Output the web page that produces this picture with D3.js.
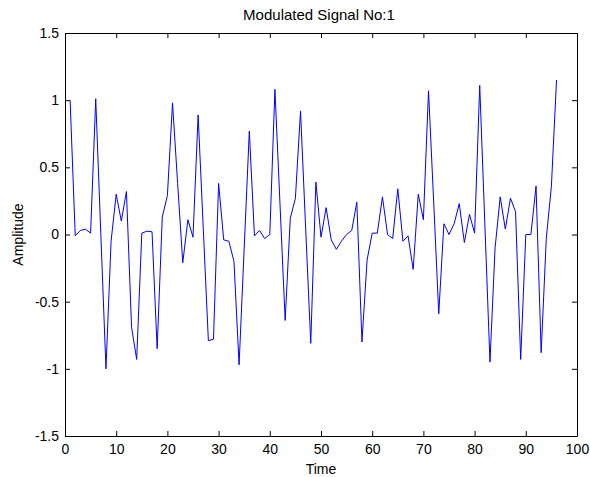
<!DOCTYPE html>
<html>
<head>
<meta charset="utf-8">
<script src="https://cdn.jsdelivr.net/npm/d3@7"></script>
<style>
  body { margin: 0; background: #fff; }
  svg text { font-family: "Liberation Sans", Arial, sans-serif; fill: #000; }
</style>
</head>
<body>
<svg id="chart" width="590" height="477"></svg>
<script>
// sample index 1..96
var amplitude = [
  1.00, -0.01, 0.03, 0.04, 0.01, 1.01, 0.00, -1.00, -0.05, 0.30,
  0.10, 0.32, -0.69, -0.93, 0.01, 0.025, 0.02, -0.85, 0.13, 0.29,
  0.98, 0.38, -0.21, 0.11, -0.02, 0.89, 0.05, -0.79, -0.78, 0.38,
  -0.04, -0.05, -0.20, -0.97, -0.10, 0.77, -0.01, 0.03, -0.03, 0.00,
  1.08, 0.22, -0.64, 0.12, 0.27, 0.92, 0.05, -0.81, 0.39, -0.02,
  0.20, -0.04, -0.11, -0.05, 0.00, 0.03, 0.24, -0.80, -0.19, 0.01,
  0.01, 0.28, 0.00, -0.03, 0.34, -0.05, -0.01, -0.26, 0.30, 0.11,
  1.07, 0.25, -0.59, 0.08, 0.00, 0.08, 0.23, -0.06, 0.15, 0.01,
  1.11, 0.08, -0.95, -0.10, 0.28, 0.04, 0.27, 0.17, -0.93, 0.00,
  0.00, 0.36, -0.88, -0.03, 0.36, 1.15
];
var xTicks = [0, 10, 20, 30, 40, 50, 60, 70, 80, 90, 100];
var yTicks = [-1.5, -1, -0.5, 0, 0.5, 1, 1.5];

var svg = d3.select('#chart');
var m = { left: 65, right: 577, top: 33, bottom: 436 };

var x = d3.scaleLinear().domain([0, 100]).range([m.left, m.right]);
var y = d3.scaleLinear().domain([-1.5, 1.5]).range([m.bottom, m.top]);

var data = amplitude.map(function(v, i) { return [i + 1, v]; });

svg.append('path')
  .datum(data)
  .attr('fill', 'none')
  .attr('stroke', '#0000ff')
  .attr('stroke-width', 1)
  .attr('d', d3.line().x(function(d) { return x(d[0]); }).y(function(d) { return y(d[1]); }));

function fmt(v) { return String(v); }

// matlab style box with inward ticks on all sides
var gb = svg.append('g').attr('transform', 'translate(0,' + m.bottom + ')')
  .call(d3.axisBottom(x).tickValues(xTicks).tickFormat(fmt).tickSizeInner(-5).tickSizeOuter(0).tickPadding(8));
var gt = svg.append('g').attr('transform', 'translate(0,' + m.top + ')')
  .call(d3.axisTop(x).tickValues(xTicks).tickFormat('').tickSizeInner(-5).tickSizeOuter(0));
var gl = svg.append('g').attr('transform', 'translate(' + m.left + ',0)')
  .call(d3.axisLeft(y).tickValues(yTicks).tickFormat(fmt).tickSizeInner(-5).tickSizeOuter(0).tickPadding(6));
var gr = svg.append('g').attr('transform', 'translate(' + m.right + ',0)')
  .call(d3.axisRight(y).tickValues(yTicks).tickFormat('').tickSizeInner(-5).tickSizeOuter(0));

[gb, gt, gl, gr].forEach(function(g) {
  g.selectAll('.domain').attr('stroke', '#000').attr('stroke-width', 1);
  g.selectAll('.tick line').attr('stroke', '#000');
  g.selectAll('.tick text').attr('font-size', 14).attr('font-family', '"Liberation Sans", Arial, sans-serif').attr('fill', '#000');
});

svg.append('text')
  .attr('x', (m.left + m.right) / 2 - 2).attr('y', 20)
  .attr('text-anchor', 'middle').attr('font-size', 15)
  .text('Modulated Signal No:1');

svg.append('text')
  .attr('x', (m.left + m.right) / 2).attr('y', 474)
  .attr('text-anchor', 'middle').attr('font-size', 14)
  .text('Time');

svg.append('text')
  .attr('transform', 'translate(23,' + ((m.top + m.bottom) / 2) + ') rotate(-90)')
  .attr('text-anchor', 'middle').attr('font-size', 14)
  .text('Amplitude');
</script>
</body>
</html>
